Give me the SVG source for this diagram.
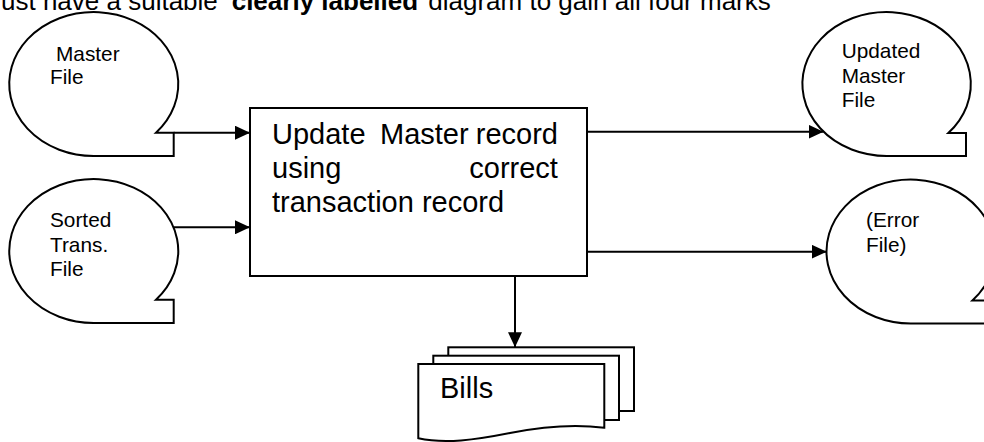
<svg xmlns="http://www.w3.org/2000/svg" width="984" height="442" viewBox="0 0 984 442">
  <style>
    text { font-family: "Liberation Sans", Arial, sans-serif; fill: #000; }
    .hdr { font-size: 26px; }
    .hdr .b { font-weight: bold; }
    .lbl { font-size: 20.8px; }
    .proc { font-size: 29px; }
    .shape { fill: #fff; stroke: #000; stroke-width: 2; stroke-linejoin: miter; }
    .conn line { stroke: #000; stroke-width: 2; }
  </style>
  <defs>
    <marker id="arrow" markerUnits="userSpaceOnUse" markerWidth="16" markerHeight="14" refX="15" refY="7" orient="auto">
      <path d="M0,0 L15,7 L0,14 Z" fill="#000"/>
    </marker>
  </defs>

  <rect width="984" height="442" fill="#fff"/>

  <!-- heading line -->
  <text class="hdr" y="10"><tspan x="1">ust have a suitable</tspan><tspan class="b" x="231.7">clearly labelled</tspan><tspan x="428.3">diagram to gain all four marks</tspan></text>

  <!-- sequential files -->
  <g id="master-file">
    <path class="shape" d="M156,132.7 L173.7,132.7 L173.7,156 L94.5,156 A84.5,72 0 1 1 156,132.7 Z"/>
    <text class="lbl"><tspan x="56" y="60.7">Master</tspan><tspan x="50" y="84">File</tspan></text>
  </g>

  <g id="sorted-trans-file">
    <path class="shape" d="M156,299.7 L173.7,299.7 L173.7,323 L94.5,323 A84.5,72 0 1 1 156,299.7 Z"/>
    <text class="lbl"><tspan x="50" y="227.3">Sorted</tspan><tspan x="50" y="251.7">Trans.</tspan><tspan x="50" y="276">File</tspan></text>
  </g>

  <g id="updated-master-file">
    <path class="shape" d="M948.3,133 L966,133 L966,156 L886.8,156 A84.2,72 0 1 1 948.3,133 Z"/>
    <text class="lbl"><tspan x="841.7" y="58.3">Updated</tspan><tspan x="841.7" y="83.3">Master</tspan><tspan x="841.7" y="107.3">File</tspan></text>
  </g>

  <g id="error-file">
    <path class="shape" d="M972.4,300.5 L990,300.5 L990,323.5 L910.9,323.5 A84.2,72 0 1 1 972.4,300.5 Z"/>
    <text class="lbl"><tspan x="866" y="227.3">(Error</tspan><tspan x="866" y="251.7">File)</tspan></text>
  </g>

  <!-- process box -->
  <g id="update-process">
    <rect class="shape" x="250" y="108" width="337" height="168"/>
    <text class="proc">
      <tspan x="272" y="144">Update</tspan><tspan x="380" y="144">Master</tspan><tspan x="566" y="144" text-anchor="end">record</tspan>
      <tspan x="272" y="178.3">using</tspan><tspan x="566" y="178.3" text-anchor="end">correct</tspan>
      <tspan x="272" y="212.3">transaction record</tspan>
    </text>
  </g>

  <!-- printed output: stacked documents -->
  <g id="bills">
    <rect class="shape" x="448.3" y="347.3" width="185.7" height="63.7"/>
    <rect class="shape" x="433.3" y="355.7" width="185.7" height="64.3"/>
    <path class="shape" d="M418.3,364 L604.3,364 L604.3,427.7 C575,424 545,426 510,433 C475,440 445,444 418.3,438.3 Z"/>
    <text class="proc" x="440" y="398.3" font-size="28.5">Bills</text>
  </g>

  <g id="connectors" class="conn">
    <line x1="173.7" y1="132.7" x2="250" y2="132.7" marker-end="url(#arrow)"/>
    <line x1="174" y1="227.3" x2="250" y2="227.3" marker-end="url(#arrow)"/>
    <line x1="587" y1="131.7" x2="823.5" y2="131.7" marker-end="url(#arrow)"/>
    <line x1="587" y1="251.7" x2="826.7" y2="251.7" marker-end="url(#arrow)"/>
    <line x1="515" y1="276" x2="515" y2="347.3" marker-end="url(#arrow)"/>
  </g>
</svg>
